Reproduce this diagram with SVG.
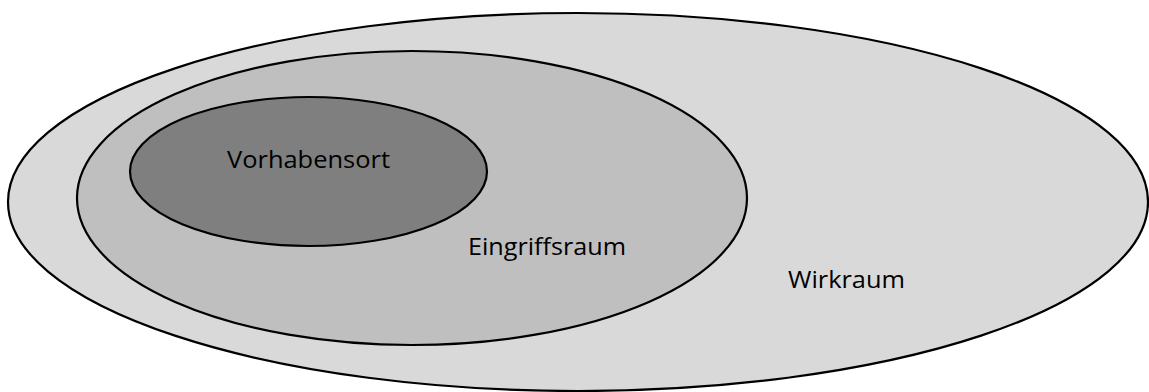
<svg xmlns="http://www.w3.org/2000/svg" width="1149" height="392" viewBox="0 0 1149 392">
<style>
.sh{stroke:#000;stroke-width:2.2}
.lb{font-family:"Open Sans","Liberation Sans",sans-serif;font-size:24px;fill:#000}
</style>
<rect width="1149" height="392" fill="#fff"/>
<g id="wirkraum">
<ellipse class="sh" cx="578" cy="202" rx="570" ry="189" fill="#d9d9d9"/>
<text class="lb" x="788" y="288" textLength="117" lengthAdjust="spacingAndGlyphs">Wirkraum</text>
</g>
<g id="eingriffsraum">
<ellipse class="sh" cx="412" cy="198" rx="335" ry="147" fill="#bfbfbf"/>
<text class="lb" x="468" y="255" textLength="158" lengthAdjust="spacingAndGlyphs">Eingriffsraum</text>
</g>
<g id="vorhabensort">
<ellipse class="sh" cx="308.5" cy="171.5" rx="178.5" ry="74.5" fill="#7f7f7f"/>
<text class="lb" x="227" y="168" textLength="163" lengthAdjust="spacingAndGlyphs">Vorhabensort</text>
</g>
<g id="connectors"/>
</svg>
